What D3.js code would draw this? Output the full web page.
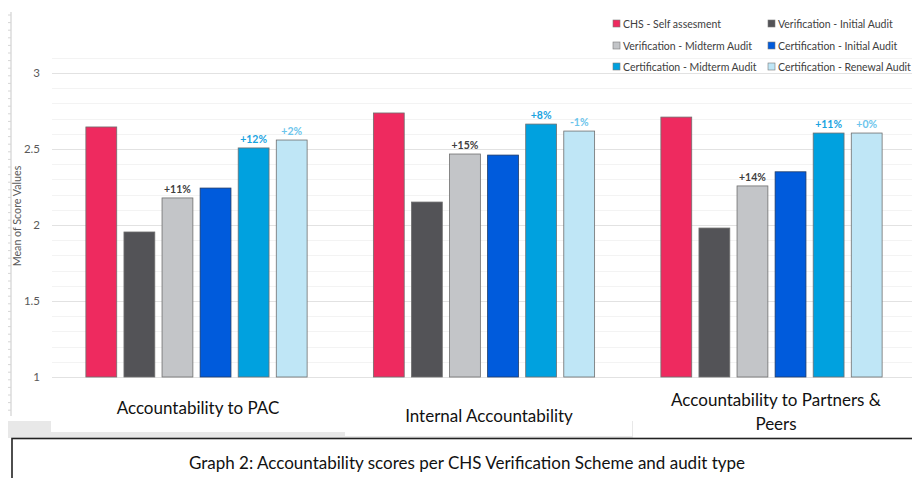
<!DOCTYPE html>
<html>
<head>
<meta charset="utf-8">
<script src="https://cdn.jsdelivr.net/npm/d3@7"></script>
<style>
  body { margin: 0; background: #fff; }
  svg { display: block; font-family: Lato, "Open Sans", sans-serif; }
</style>
</head>
<body>
<svg width="912" height="478"></svg>
<script>
var width = 912, height = 478;

// data
var categories = ["Accountability to PAC", "Internal Accountability", "Accountability to Partners & Peers"];
var series = ["CHS - Self assesment", "Verification - Initial Audit", "Verification - Midterm Audit",
              "Certification - Initial Audit", "Certification - Midterm Audit", "Certification - Renewal Audit"];
var colors = ["#ee2a5f", "#535357", "#c3c5c8", "#005bdc", "#00a1df", "#bfe6f6"];
var selfAssessment = [2.645, 2.737, 2.71];
var verInitial     = [1.954, 2.151, 1.98];
var verMidterm     = [2.178, 2.467, 2.257];
var certInitial    = [2.243, 2.46, 2.35];
var certMidterm    = [2.507, 2.664, 2.605];
var certRenewal    = [2.559, 2.618, 2.605];
var midtermLabels  = ["+11%", "+15%", "+14%"];
var certMidLabels  = ["+12%", "+8%", "+11%"];
var renewalLabels  = ["+2%", "-1%", "+0%"];
var yTicks = [1, 1.5, 2, 2.5, 3];

var allValues = [selfAssessment, verInitial, verMidterm, certInitial, certMidterm, certRenewal];
var labelsBySeries = {2: midtermLabels, 4: certMidLabels, 5: renewalLabels};
var labelColors = {2: "#404040", 4: "#1aa3df", 5: "#6cc5ec"};

var svg = d3.select("svg");

// left ruler decoration
var ruler = svg.append("g");
ruler.append("line").attr("x1", 11).attr("x2", 11).attr("y1", 12).attr("y2", 416)
  .attr("stroke", "#e4e4e4").attr("stroke-width", 2);
ruler.selectAll(".rt").data(d3.range(0, 53)).enter().append("line")
  .attr("x1", 8).attr("x2", 11)
  .attr("y1", function(d) { return 15 + d * 7.6; })
  .attr("y2", function(d) { return 15 + d * 7.6; })
  .attr("stroke", "#d6d6d6").attr("stroke-width", 1);

var y = d3.scaleLinear().domain([1, 3]).range([377, 73]);

var x0 = d3.scaleBand().domain(categories).range([52.75, 915.25]);
var x1 = d3.scaleBand().domain(d3.range(series.length))
  .range([0, x0.bandwidth()]).paddingInner(0.19).paddingOuter(0.87);

// gridlines
var minor = d3.range(10, 32).map(function(d) { return d / 10; });
svg.append("g").selectAll("line").data(minor).enter().append("line")
  .attr("x1", 52).attr("x2", 912)
  .attr("y1", function(d) { return Math.round(y(d)) + 0.5; })
  .attr("y2", function(d) { return Math.round(y(d)) + 0.5; })
  .attr("stroke", function(d) { return Math.abs(d * 2 - Math.round(d * 2)) < 1e-6 ? "#e2e2e2" : "#f3f3f3"; })
  .attr("stroke-width", 1);

// y axis labels
var yAxis = svg.append("g").attr("transform", "translate(43,0)")
  .call(d3.axisLeft(y).tickValues(yTicks).tickSize(0).tickFormat(d3.format("")));
yAxis.select(".domain").remove();
yAxis.selectAll("text").attr("fill", "#595959").style("font-size", "11.5px")
  .style("font-family", "Lato, sans-serif");

svg.append("text")
  .attr("transform", "translate(21,216) rotate(-90)")
  .attr("text-anchor", "middle")
  .attr("fill", "#595959")
  .style("font-size", "10.7px")
  .text("Mean of Score Values");

// bars
var groups = svg.append("g").selectAll("g").data(categories).enter().append("g")
  .attr("transform", function(d) { return "translate(" + x0(d) + ",0)"; });

groups.each(function(cat, ci) {
  var g = d3.select(this);
  series.forEach(function(s, si) {
    var v = allValues[si][ci];
    g.append("rect")
      .attr("x", x1(si))
      .attr("y", y(v))
      .attr("width", x1.bandwidth())
      .attr("height", y(1) - y(v))
      .attr("fill", colors[si])
      .attr("stroke", si == 3 ? "#1e3a66" : "#6f6f6f")
      .attr("stroke-width", 0.8);
    if (labelsBySeries[si]) {
      g.append("text")
        .attr("x", x1(si) + x1.bandwidth() / 2)
        .attr("y", y(v) - 5)
        .attr("text-anchor", "middle")
        .attr("fill", labelColors[si])
        .style("font-size", "10.5px")
        .style("font-weight", "bold")
        .text(labelsBySeries[si][ci]);
    }
  });
});

// legend
var legendPos = [[613, 24], [768, 24], [613, 46], [768, 46], [613, 67], [768, 67]];
var legend = svg.append("g").selectAll("g").data(series).enter().append("g")
  .attr("transform", function(d, i) { return "translate(" + legendPos[i][0] + "," + legendPos[i][1] + ")"; });
legend.append("rect").attr("x", 0).attr("y", -4).attr("width", 7).attr("height", 7)
  .attr("fill", function(d, i) { return colors[i]; })
  .attr("stroke", "#7a7a7a").attr("stroke-width", 0.6);
legend.append("text").attr("x", 10).attr("y", 3.5)
  .attr("fill", "#404040").style("font-size", "10.5px")
  .text(function(d) { return d; });

// document background pieces under the chart
svg.append("rect").attr("x", 8).attr("y", 421).attr("width", 625).attr("height", 17).attr("fill", "#e8e8e8");
svg.append("rect").attr("x", 51).attr("y", 418).attr("width", 294).attr("height", 14).attr("fill", "#fff");
svg.append("rect").attr("x", 345).attr("y", 418).attr("width", 287).attr("height", 18).attr("fill", "#fff");
svg.append("rect").attr("x", 633).attr("y", 418).attr("width", 279).attr("height", 20).attr("fill", "#fff");

// category labels
var catLabels = [
  {lines: ["Accountability to PAC"], cx: 198, y: 414},
  {lines: ["Internal Accountability"], cx: 489, y: 422},
  {lines: ["Accountability to Partners &", "Peers"], cx: 776, y: 406}
];
catLabels.forEach(function(c) {
  c.lines.forEach(function(l, li) {
    svg.append("text").attr("x", c.cx).attr("y", c.y + li * 24)
      .attr("text-anchor", "middle").attr("fill", "#111")
      .style("font-size", "17px").text(l);
  });
});

// caption box
svg.append("rect").attr("x", 12).attr("y", 438.5).attr("width", 910).attr("height", 60)
  .attr("fill", "#fff").attr("stroke", "#222").attr("stroke-width", 1.6);
svg.append("text").attr("x", 467).attr("y", 469).attr("text-anchor", "middle")
  .attr("fill", "#111").style("font-size", "17px")
  .text("Graph 2: Accountability scores per CHS Verification Scheme and audit type");
</script>
</body>
</html>
